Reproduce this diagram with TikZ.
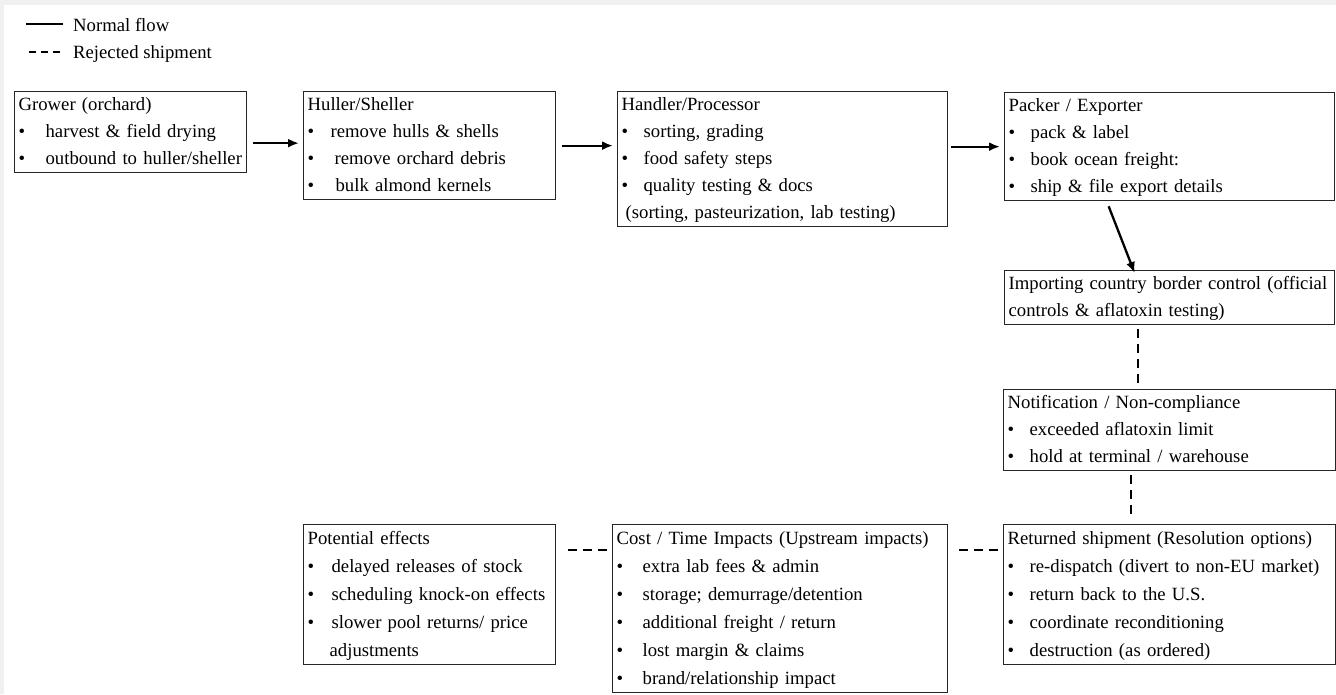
\documentclass[tikz,border=0pt]{standalone}
\usepackage{fontspec}
\setmainfont{Liberation Serif}
\usetikzlibrary{arrows.meta,calc}

% bullet with a fixed hanging width
\newcommand\bul[1][22pt]{\makebox[#1][l]{\textbullet}}

\begin{document}
\begin{tikzpicture}[x=1pt,y=-1pt]
    % --- Styles ---
    \tikzset{
        stage box/.style={
            draw=black!85,
            line width=1.3pt,
            anchor=north west,
            align=left,
            inner xsep=4pt,
            inner ysep=0pt,
            font=\fontsize{18.7}{27}\selectfont,
            execute at begin node=\strut,
            execute at end node=\strut,
            text width=#1
        },
        loose lines/.style={font=\fontsize{18.7}{28}\selectfont},
        flow arrow/.style={
            line width=2.3pt,
            -{Latex[length=11pt,width=9pt]}
        },
        reject line/.style={
            line width=2.3pt,
            dash pattern=on 9pt off 6pt
        },
        legend text/.style={
            anchor=base west,
            inner sep=0pt,
            font=\fontsize{18.7}{27}\selectfont
        }
    }

    % =========================================================
    % 0) CANVAS
    % =========================================================
    \useasboundingbox (0,0) rectangle (1336,694);
    \fill[black!6] (0,0) rectangle (1336,694);
    \fill[white] (4,5) rectangle (1336,694);

    % =========================================================
    % 1) LEGEND
    % =========================================================
    \coordinate (solid start) at (26,24);
    \coordinate (solid end) at (63,24);
    \node[legend text] (normal label) at (73,31) {Normal flow};
    \draw[line width=1.2pt] (solid start) -- (solid end);

    \coordinate (dash start) at (29,52);
    \coordinate (dash end) at (62,52);
    \node[legend text] (reject label) at (73,58) {Rejected shipment};
    \draw[line width=1.2pt, dash pattern=on 7pt off 5pt] (dash start) -- (dash end);

    % =========================================================
    % 2) SUPPLY CHAIN (top row)
    % =========================================================
    \node[stage box=224pt] (grower) at (14,91) {
        Grower (orchard)\\
        \bul[27pt]harvest \& field drying\\
        \bul[27pt]outbound to huller/sheller
    };

    \node[stage box=244pt] (huller) at (303,91) {
        Huller/Sheller\\
        \bul[23pt]remove hulls \& shells\\
        \bul[27pt]remove orchard debris\\
        \bul[28pt]bulk almond kernels
    };

    \node[stage box=322pt] (handler) at (617,91) {
        Handler/Processor\\
        \bul sorting, grading\\
        \bul food safety steps\\
        \bul quality testing \& docs\\
        \hspace{4pt}(sorting, pasteurization, lab testing)
    };

    \node[stage box=322pt] (packer) at (1004,92) {
        Packer / Exporter\\
        \bul pack \& label\\
        \bul book ocean freight:\\
        \bul ship \& file export details
    };

    % =========================================================
    % 3) REJECTION PATH (right column and bottom row)
    % =========================================================
    \node[stage box=322pt] (importing) at (1004,270) {
        Importing country border control (official\\
        controls \& aflatoxin testing)
    };

    \node[stage box=324pt] (notif) at (1003,389) {
        Notification / Non-compliance\\
        \bul exceeded aflatoxin limit\\
        \bul hold at terminal / warehouse
    };

    \node[stage box=324pt, loose lines] (returned) at (1003,524) {
        Returned shipment (Resolution options)\\
        \bul re-dispatch (divert to non-EU market)\\
        \bul return back to the U.S.\\
        \bul coordinate reconditioning\\
        \bul destruction (as ordered)
    };

    \node[stage box=327pt, loose lines] (cost) at (612,524) {
        Cost / Time Impacts (Upstream impacts)\\
        \bul[26pt]extra lab fees \& admin\\
        \bul[26pt]storage; demurrage/detention\\
        \bul[26pt]additional freight / return\\
        \bul[26pt]lost margin \& claims\\
        \bul[26pt]brand/relationship impact
    };

    \node[stage box=244pt, loose lines] (potential) at (303,524) {
        Potential effects\\
        \bul[24pt]delayed releases of stock\\
        \bul[24pt]scheduling knock-on effects\\
        \bul[24pt]slower pool returns/ price\\
        \hspace{22pt}adjustments
    };

    % =========================================================
    % 4) CONNECTORS
    % =========================================================
    % normal flow
    \draw[flow arrow] ([xshift=6pt,yshift=-11pt]grower.east)
        -- ([xshift=-4pt,yshift=-11pt]grower.east -| huller.west);
    \draw[flow arrow] ([xshift=6pt]huller.east)
        -- ([xshift=-4pt]huller.east -| handler.west);
    \draw[flow arrow] ([xshift=3pt]packer.west -| handler.east)
        -- ([xshift=-4pt]packer.west);
    \draw[flow arrow] ([xshift=-61pt,yshift=-5pt]packer.south)
        -- ([xshift=-35pt,yshift=-3pt]importing.north);

    % rejected shipment
    \draw[reject line] ([xshift=-32pt,yshift=-4pt]importing.south)
        -- ([xshift=-32pt,yshift=4pt]importing.south |- notif.north);
    \draw[reject line] ([xshift=-39pt,yshift=-4pt]notif.south)
        -- ([xshift=-39pt,yshift=4pt]notif.south |- returned.north);
    \draw[reject line] ([xshift=-5pt,yshift=-26pt]returned.north west)
        -- ([xshift=5pt,yshift=-26pt]returned.north west -| cost.east);
    \draw[reject line] ([xshift=-5pt,yshift=-26pt]cost.north west)
        -- ([xshift=6pt,yshift=-26pt]cost.north west -| potential.east);

\end{tikzpicture}
\end{document}
